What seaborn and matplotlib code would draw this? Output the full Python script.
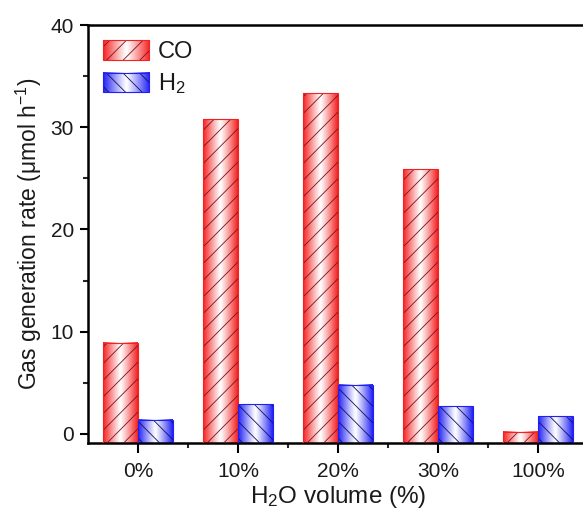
import matplotlib
matplotlib.use('Agg')
import matplotlib.pyplot as plt
from matplotlib.colors import to_rgb
from matplotlib.patches import Patch, Rectangle
from matplotlib.ticker import MultipleLocator
import seaborn as sns
import numpy as np
import pandas as pd

# values
water = ['0%', '10%', '20%', '30%', '100%']
co_rate = [8.9, 30.8, 33.3, 25.9, 0.2]
h2_rate = [1.4, 2.9, 4.8, 2.7, 1.7]
gases = ['CO', 'H$_2$']
bar_colors = ['#f52020', '#2020f5']
hatch_colors = ['#7a1020', '#101060']
hatches = ['//', '\\\\']

df = pd.DataFrame({
    'water': water * 2,
    'rate': co_rate + h2_rate,
    'gas': [gases[0]] * len(water) + [gases[1]] * len(water),
})

sns.set_style('ticks')
plt.rcParams['font.family'] = ['Liberation Sans', 'DejaVu Sans']
plt.rcParams['mathtext.default'] = 'regular'
plt.rcParams['hatch.linewidth'] = 0.6


def cylinder(color):
    """Horizontal colour -> white -> colour shading, like a glossy bar"""
    t = np.linspace(0, 1, 128)
    v = np.abs(2 * t - 1) ** 1.1
    base = np.array(to_rgb(color))
    row = (1 - v)[:, None] * np.ones(3) + v[:, None] * base
    return row[None, :, :]


fig = plt.figure(figsize=(5.83, 5.19), dpi=100)
ax = fig.add_axes([0.1509, 0.1464, 0.8576, 0.8054])

sns.barplot(data=df, x='water', y='rate', hue='gas', order=water,
            hue_order=gases, palette=bar_colors, width=0.7,
            legend=False, ax=ax)

y_floor = -0.9
n = len(water)
for i, p in enumerate(list(ax.patches)):
    g = i // n
    # bars start at the bottom of the frame
    h = p.get_height()
    p.set_y(y_floor)
    p.set_height(h - y_floor)
    x0, w = p.get_x(), p.get_width()
    ax.imshow(cylinder(bar_colors[g]), extent=[x0, x0 + w, y_floor, h],
              aspect='auto', interpolation='bilinear', zorder=2)
    p.set_facecolor('none')
    p.set_edgecolor(hatch_colors[g])
    p.set_hatch(hatches[g])
    p.set_linewidth(0)
    p.set_zorder(3)
    ax.add_patch(Rectangle((x0, y_floor), w, h - y_floor, fill=False,
                           edgecolor=bar_colors[g], lw=0.8, zorder=4))

ax.set_xlim(-0.5, n - 0.5)
ax.set_ylim(y_floor, 40)
ax.yaxis.set_major_locator(MultipleLocator(10))
ax.yaxis.set_minor_locator(MultipleLocator(5))
ax.set_xticks(np.arange(n - 1) + 0.5, minor=True)

for s in ax.spines.values():
    s.set_linewidth(1.8)
    s.set_color('black')
ax.tick_params(which='major', direction='out', length=6, width=1.5,
               labelsize=15, colors='black', pad=4)
ax.tick_params(axis='x', which='major', length=7, pad=7)
ax.tick_params(which='minor', direction='out', length=3.5, width=1.5)
for lab in ax.get_xticklabels() + ax.get_yticklabels():
    lab.set_color('#1a1a1a')

ax.set_xlabel('H$_2$O volume (%)', fontsize=17.5, color='#1a1a1a', labelpad=2)
ax.set_ylabel('Gas generation rate (μmol h$^{-1}$)', fontsize=16.5,
              color='#1a1a1a', labelpad=5)

handles = [Patch(facecolor='none', edgecolor=hatch_colors[k], hatch=hatches[k],
                 linewidth=0, label=gases[k]) for k in range(2)]
leg = ax.legend(handles=handles, loc='upper left', frameon=False, fontsize=17,
                handlelength=1.95, handleheight=0.9, labelspacing=0.35,
                handletextpad=0.35, borderaxespad=0.25)
for t in leg.get_texts():
    t.set_color('#1a1a1a')

# shade legend keys the same way as the bars
fig.canvas.draw()
inv = ax.transData.inverted()
for k, hnd in enumerate(leg.legend_handles):
    bb = hnd.get_window_extent(fig.canvas.get_renderer())
    (lx0, ly0), (lx1, ly1) = inv.transform([[bb.x0, bb.y0], [bb.x1, bb.y1]])
    ax.imshow(cylinder(bar_colors[k]), extent=[lx0, lx1, ly0, ly1],
              aspect='auto', interpolation='bilinear', zorder=4)
    ax.add_patch(Rectangle((lx0, ly0), lx1 - lx0, ly1 - ly0, fill=False,
                           edgecolor=bar_colors[k], lw=0.8, zorder=6))
ax.set_xlim(-0.5, n - 0.5)
ax.set_ylim(y_floor, 40)

fig.savefig('out.png', dpi=100)
